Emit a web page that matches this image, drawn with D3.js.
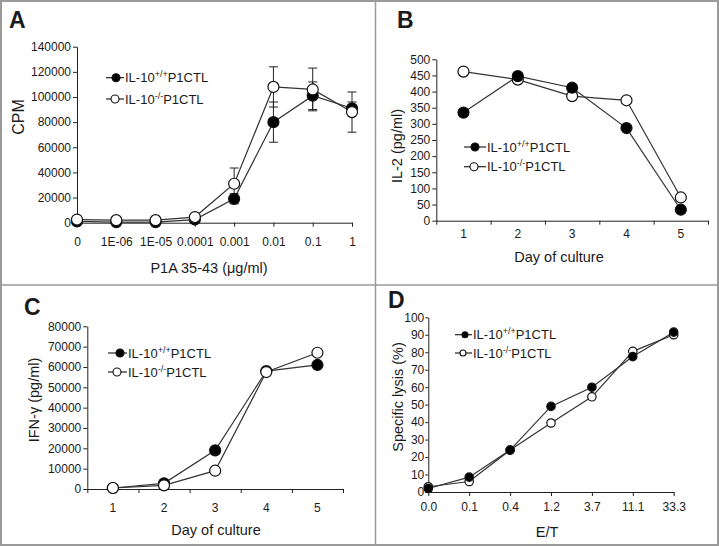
<!DOCTYPE html>
<html><head><meta charset="utf-8">
<script src="https://cdn.jsdelivr.net/npm/d3@7"></script>
<style>
body{margin:0;background:#fff}
text{font-family:"Liberation Sans",Arial,sans-serif;fill:#1a1a1a}
</style>
</head><body>
<svg id="chart" width="719" height="546"></svg>
<script>
// ---------- DATA ----------
const seriesLabels = [["IL-10", "+/+", "P1CTL"], ["IL-10", "-/-", "P1CTL"]];

// Panel A: proliferation
const aCategories = ["0", "1E-06", "1E-05", "0.0001", "0.001", "0.01", "0.1", "1"];
const aWT    = [1000, 500, 500, 2500, 19000, 80000, 101000, 91000];
const aWTerr = [0, 0, 0, 0, 4000, 16000, 11000, 5000];
const aKO    = [2500, 2000, 2000, 4500, 31000, 108000, 106000, 88000];
const aKOerr = [0, 0, 0, 1000, 12500, 16000, 17000, 16000];
const aYTicks = [0, 20000, 40000, 60000, 80000, 100000, 120000, 140000];

// Panel B: IL-2
const bCategories = ["1", "2", "3", "4", "5"];
const bWT = [335, 448, 412, 287, 34];
const bKO = [462, 437, 386, 373, 72];
const bYTicks = [0, 50, 100, 150, 200, 250, 300, 350, 400, 450, 500];

// Panel C: IFN-gamma
const cCategories = ["1", "2", "3", "4", "5"];
const cWT = [500, 2800, 19000, 58000, 61000];
const cKO = [500, 1800, 9000, 57500, 67000];
const cYTicks = [0, 10000, 20000, 30000, 40000, 50000, 60000, 70000, 80000];

// Panel D: specific lysis
const dCategories = ["0.0", "0.1", "0.4", "1.2", "3.7", "11.1", "33.3"];
const dWT = [2, 8.5, 24, 49, 60, 77.5, 91.5];
const dKO = [3, 6, 24, 39.5, 54.5, 80.5, 90];
const dYTicks = [0, 10, 20, 30, 40, 50, 60, 70, 80, 90, 100];

// ---------- DRAWING ----------
const svg = d3.select("#chart");

// frame
svg.append("rect").attr("x", 1).attr("y", 1).attr("width", 717).attr("height", 544)
  .attr("fill", "none").attr("stroke", "#9a9a9a").attr("stroke-width", 2);
svg.append("line").attr("x1", 375.5).attr("x2", 375.5).attr("y1", 1).attr("y2", 545)
  .attr("stroke", "#9a9a9a").attr("stroke-width", 1.5);
svg.append("line").attr("x1", 1).attr("x2", 718).attr("y1", 285).attr("y2", 285)
  .attr("stroke", "#9a9a9a").attr("stroke-width", 1.5);

function panel(cfg) {
  const g = svg.append("g");
  const n = cfg.cats.length;
  let x, cx, tickScale, tickVals;
  if (cfg.band) {
    x = d3.scaleBand().domain(cfg.cats).range([cfg.x0, cfg.x1]);
    cx = d => x(d) + x.bandwidth() / 2;
    tickScale = d3.scaleLinear().domain([0, n]).range([cfg.x0, cfg.x1]);
    tickVals = d3.range(n + 1);
  } else {
    x = d3.scalePoint().domain(cfg.cats).range([cfg.x0, cfg.x1]);
    cx = d => x(d);
    tickScale = d3.scaleLinear().domain([0, n - 1]).range([cfg.x0, cfg.x1]);
    tickVals = d3.range(n);
  }
  const y = d3.scaleLinear().domain([0, cfg.ymax]).range([cfg.y0, cfg.y1]);

  // x axis: tick marks
  const xa = g.append("g").attr("transform", `translate(0,${cfg.y0})`)
    .call(d3.axisBottom(tickScale).tickValues(tickVals).tickFormat("").tickSize(4).tickSizeOuter(0));
  // x axis labels
  const xl = g.append("g").attr("transform", `translate(0,${cfg.y0})`)
    .call(d3.axisBottom(x).tickSize(0).tickPadding(cfg.xPad));
  xl.select(".domain").remove();
  // y axis
  const ya = g.append("g").attr("transform", `translate(${cfg.x0},0)`)
    .call(d3.axisLeft(y).tickValues(cfg.yTicks).tickFormat(d3.format("d"))
      .tickSize(cfg.yTick || 4).tickPadding(cfg.yPad).tickSizeOuter(0));
  [xa, xl, ya].forEach(a => {
    a.selectAll("path,line").attr("stroke", "#222").attr("stroke-width", 1);
    a.selectAll("text").style("font-family", '"Liberation Sans",Arial,sans-serif')
      .style("font-size", "12px").attr("fill", "#1a1a1a");
  });

  // axis titles
  g.append("text").attr("x", cfg.xtx).attr("y", cfg.xty).attr("text-anchor", "middle")
    .attr("dy", "0.35em").style("font-size", "14.5px").text(cfg.xTitle);
  const yt = g.append("text").attr("transform", `translate(${cfg.ytx},${cfg.yty}) rotate(-90)`)
    .attr("text-anchor", "middle").attr("dy", "0.35em").style("font-size", (cfg.ytSize || 14.5) + "px");
  if (cfg.yTitleFn) cfg.yTitleFn(yt); else yt.text(cfg.yTitle);

  // panel letter
  g.append("text").attr("x", cfg.lx).attr("y", cfg.ly).style("font-size", "23px")
    .style("font-weight", "bold").attr("fill", "#111").text(cfg.letter);

  // series
  const series = [
    {vals: cfg.wt, err: cfg.wtErr, filled: true},
    {vals: cfg.ko, err: cfg.koErr, filled: false}
  ];
  const line = d3.line().x((d, i) => cx(cfg.cats[i])).y(d => y(d));
  series.forEach(s => {
    g.append("path").datum(s.vals).attr("d", line).attr("fill", "none")
      .attr("stroke", "#333").attr("stroke-width", 1.2);
  });
  // error bars
  series.forEach(s => {
    if (!s.err) return;
    s.vals.forEach((v, i) => {
      const e = s.err[i]; if (!e) return;
      const px = cx(cfg.cats[i]);
      const eg = g.append("g").attr("stroke", "#222").attr("stroke-width", 1);
      eg.append("line").attr("x1", px).attr("x2", px).attr("y1", y(v - e)).attr("y2", y(v + e));
      [v - e, v + e].forEach(t => eg.append("line").attr("x1", px - 4.5).attr("x2", px + 4.5)
        .attr("y1", y(t)).attr("y2", y(t)));
    });
  });
  // markers
  const order = cfg.openOnTop ? [0, 1] : [1, 0];
  order.forEach(k => {
    const s = series[k];
    g.selectAll(null).data(s.vals).enter().append("circle")
      .attr("cx", (d, i) => cx(cfg.cats[i])).attr("cy", d => y(d)).attr("r", cfg.r)
      .attr("fill", s.filled ? "#000" : "#fff").attr("stroke", "#111").attr("stroke-width", 1.2);
  });

  // legend
  cfg.legend.forEach((lg, k) => {
    const lgGroup = g.append("g");
    lgGroup.append("line").attr("x1", lg.lx0).attr("x2", lg.lx1).attr("y1", lg.y).attr("y2", lg.y)
      .attr("stroke", "#222").attr("stroke-width", 1.2);
    lgGroup.append("circle").attr("cx", lg.mx).attr("cy", lg.y).attr("r", cfg.lr)
      .attr("fill", k === 0 ? "#000" : "#fff").attr("stroke", "#111").attr("stroke-width", 1.1);
    const t = lgGroup.append("text").attr("x", lg.tx).attr("y", lg.y).attr("dy", "0.36em")
      .style("font-size", "13px");
    t.append("tspan").text(seriesLabels[k][0]);
    t.append("tspan").attr("dy", "-5").style("font-size", "9px").text(seriesLabels[k][1]);
    t.append("tspan").attr("dy", "5").text(seriesLabels[k][2]);
  });
}

// Panel A
panel({
  letter: "A", lx: 9, ly: 28, band: false, cats: aCategories,
  x0: 77, x1: 352, y0: 222.7, y1: 46.7, ymax: 140000, yTicks: aYTicks,
  wt: aWT, wtErr: aWTerr, ko: aKO, koErr: aKOerr, r: 5.5, lr: 4, openOnTop: true,
  xPad: 15, yPad: 2, xTitle: "P1A 35-43 (\u03bcg/ml)", xtx: 209, xty: 268,
  yTitle: "CPM", ytx: 18, yty: 117, ytSize: 16,
  legend: [
    {y: 77.7, lx0: 106, lx1: 124, mx: 116, tx: 125},
    {y: 99, lx0: 106, lx1: 124, mx: 115, tx: 125}
  ]
});

// Panel B
panel({
  letter: "B", lx: 397, ly: 28, band: true, cats: bCategories,
  x0: 436.3, x1: 708, y0: 220.7, y1: 59.3, ymax: 500, yTicks: bYTicks,
  wt: bWT, ko: bKO, r: 5.5, lr: 4, openOnTop: false,
  xPad: 9, yPad: 2, xTitle: "Day of culture", xtx: 559, xty: 257,
  yTitle: "IL-2 (pg/ml)", ytx: 397, yty: 146,
  legend: [
    {y: 147, lx0: 464, lx1: 486, mx: 475, tx: 487},
    {y: 166.7, lx0: 464, lx1: 486, mx: 474, tx: 487}
  ]
});

// Panel C
panel({
  letter: "C", lx: 24, ly: 315, band: true, cats: cCategories,
  x0: 87.3, x1: 343, y0: 489, y1: 326.3, ymax: 80000, yTicks: cYTicks,
  wt: cWT, ko: cKO, r: 5.5, lr: 4, openOnTop: true,
  xPad: 14, yPad: 2, xTitle: "Day of culture", xtx: 216, xty: 530,
  yTitleFn: t => { t.append("tspan").text("IFN-"); t.append("tspan").text("\u03b3"); t.append("tspan").text(" (pg/ml)"); },
  ytx: 34, yty: 400,
  legend: [
    {y: 353, lx0: 108, lx1: 127, mx: 120, tx: 128},
    {y: 372, lx0: 108, lx1: 127, mx: 117, tx: 128}
  ]
});

// Panel D
panel({
  letter: "D", lx: 388, ly: 308, band: false, cats: dCategories,
  x0: 428.3, x1: 673.7, y0: 492, y1: 317.3, ymax: 100, yTicks: dYTicks,
  wt: dWT, ko: dKO, r: 4.2, lr: 3, openOnTop: false, yTick: 3,
  xPad: 10, yPad: 1, xTitle: "E/T", xtx: 547, xty: 532,
  yTitle: "Specific lysis (%)", ytx: 398, yty: 397,
  legend: [
    {y: 334.7, lx0: 455, lx1: 472, mx: 465, tx: 473},
    {y: 353, lx0: 455, lx1: 472, mx: 463, tx: 473}
  ]
});
</script>
</body></html>
